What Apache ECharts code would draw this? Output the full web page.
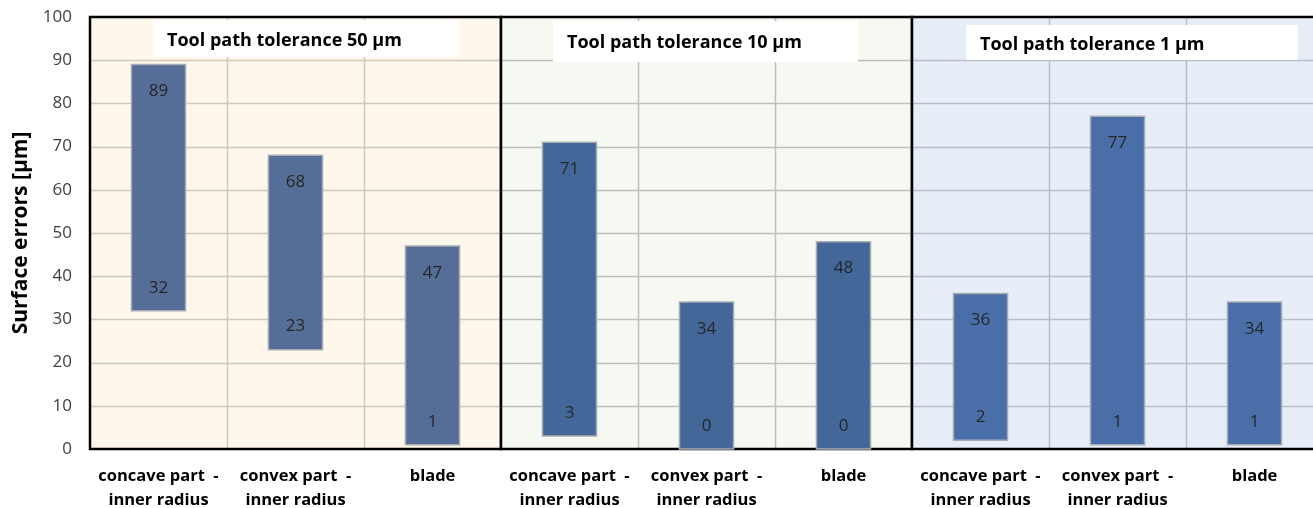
<!DOCTYPE html>
<html>
<head>
<meta charset="utf-8">
<script src="https://cdn.jsdelivr.net/npm/echarts@6/dist/echarts.min.js"></script>
<style>
  html, body { margin: 0; padding: 0; background: #fff; }
  #chart { width: 1313px; height: 508px; }
</style>
</head>
<body>
<div id="chart"></div>
<script>
var categories = [
  'concave part  -\ninner radius', 'convex part  -\ninner radius', 'blade',
  'concave part  -\ninner radius', 'convex part  -\ninner radius', 'blade',
  'concave part  -\ninner radius', 'convex part  -\ninner radius', 'blade'
];
var maxValues = [89, 68, 47, 71, 34, 48, 36, 77, 34];
var minValues = [32, 23, 1, 3, 0, 0, 2, 1, 1];
var groupTitles = ['Tool path tolerance 50 µm', 'Tool path tolerance 10 µm', 'Tool path tolerance 1 µm'];
var groupStart = [0, 3, 6];
var groupEnd = [2, 5, 8];

// styling per group (not data): box = [dx, dy, w, h], textY = offset of title centre from top
var groupStyle = [
  { bg: '#FEF7EC', grid: '#D3C7B7', bar: '#556E97', box: [63, 3, 306, 37], textY: 24 },
  { bg: '#F6F9F1', grid: '#BEBEBE', bar: '#44679A', box: [52, 4, 305, 41], textY: 26 },
  { bg: '#E7EEF8', grid: '#B8BFCA', bar: '#4A6FA8', box: [54, 8, 332, 35], textY: 28 }
];
var FONT = '"Open Sans", sans-serif';

var chart = echarts.init(document.getElementById('chart'));

var groupData = groupStart.map(function (s, i) { return [s, groupEnd[i], i]; });
var barData = maxValues.map(function (v, i) { return [i, minValues[i], v]; });

function renderGroup(params, api) {
  var s = api.value(0), e = api.value(1), g = api.value(2);
  var st = groupStyle[g];
  var bw = api.size([1, 0])[0];
  var x0 = api.coord([s, 100])[0] - bw / 2;
  var x1 = api.coord([e, 100])[0] + bw / 2;
  var yTop = api.coord([s, 100])[1];
  var yBot = api.coord([s, 0])[1];
  var children = [{
    type: 'rect',
    shape: { x: x0, y: yTop, width: x1 - x0, height: yBot - yTop },
    style: { fill: st.bg }
  }];
  for (var v = 10; v < 100; v += 10) {
    var y = Math.round(api.coord([s, v])[1]) + 0.5;
    children.push({ type: 'line', shape: { x1: x0, y1: y, x2: x1, y2: y },
      style: { stroke: st.grid, lineWidth: 1.5 } });
  }
  for (var k = s; k < e; k++) {
    var x = Math.round(api.coord([k, 0])[0] + bw / 2) + 0.5;
    children.push({ type: 'line', shape: { x1: x, y1: yTop, x2: x, y2: yBot },
      style: { stroke: st.grid, lineWidth: 1.5 } });
  }
  children.push({
    type: 'rect',
    shape: { x: x0 + st.box[0], y: yTop + st.box[1], width: st.box[2], height: st.box[3] },
    style: { fill: '#ffffff' }
  });
  children.push({
    type: 'text',
    style: {
      x: x0 + st.box[0] + 14, y: yTop + st.textY,
      text: groupTitles[g], fill: '#000',
      font: 'bold 18px ' + FONT,
      verticalAlign: 'middle', align: 'left'
    }
  });
  children.push({
    type: 'rect',
    shape: { x: x0, y: yTop, width: x1 - x0, height: yBot - yTop },
    style: { fill: null, stroke: '#000', lineWidth: 2.5 }
  });
  return { type: 'group', children: children };
}

function renderBar(params, api) {
  var i = api.value(0);
  var lo = api.coord([i, api.value(1)]);
  var hi = api.coord([i, api.value(2)]);
  var w = api.size([1, 0])[0] * 0.395;
  var g = Math.floor(i / 3);
  return {
    type: 'group',
    children: [{
      type: 'rect',
      shape: { x: lo[0] - w / 2, y: hi[1], width: w, height: lo[1] - hi[1] },
      style: { fill: groupStyle[g].bar, stroke: '#A9ADB3', lineWidth: 1.5 }
    }, {
      type: 'text',
      style: { x: hi[0], y: hi[1] + 27, text: String(api.value(2)), fill: '#262626',
        font: '17px ' + FONT, align: 'center', verticalAlign: 'middle' }
    }, {
      type: 'text',
      style: { x: lo[0], y: lo[1] - 23, text: String(api.value(1)), fill: '#262626',
        font: '17px ' + FONT, align: 'center', verticalAlign: 'middle' }
    }]
  };
}

var option = {
  animation: false,
  grid: { left: 90, top: 17, width: 1233, bottom: 59, containLabel: false, outerBoundsMode: 'none' },
  xAxis: {
    type: 'category',
    data: categories,
    axisLine: { show: false },
    axisTick: { show: false },
    splitLine: { show: false },
    axisLabel: {
      interval: 0, margin: 15, color: '#000', fontWeight: 'bold', fontSize: 16.5,
      lineHeight: 24, fontFamily: FONT
    }
  },
  yAxis: {
    type: 'value', min: 0, max: 100, interval: 10,
    name: 'Surface errors [µm]', nameLocation: 'middle', nameGap: 58, nameRotate: 90,
    nameTextStyle: { fontSize: 21, fontWeight: 'bold', color: '#000', fontFamily: FONT },
    axisLine: { show: false }, axisTick: { show: false }, splitLine: { show: false },
    axisLabel: { margin: 18, fontSize: 17, color: '#404040', fontFamily: FONT }
  },
  series: [{
    type: 'custom', renderItem: renderGroup, data: groupData, z: 1, silent: true,
    encode: { x: 0, y: -1 }, clip: false
  }, {
    type: 'custom', renderItem: renderBar, data: barData, z: 2,
    encode: { x: 0, y: [1, 2] }, clip: false
  }]
};

chart.setOption(option);
</script>
</body>
</html>
